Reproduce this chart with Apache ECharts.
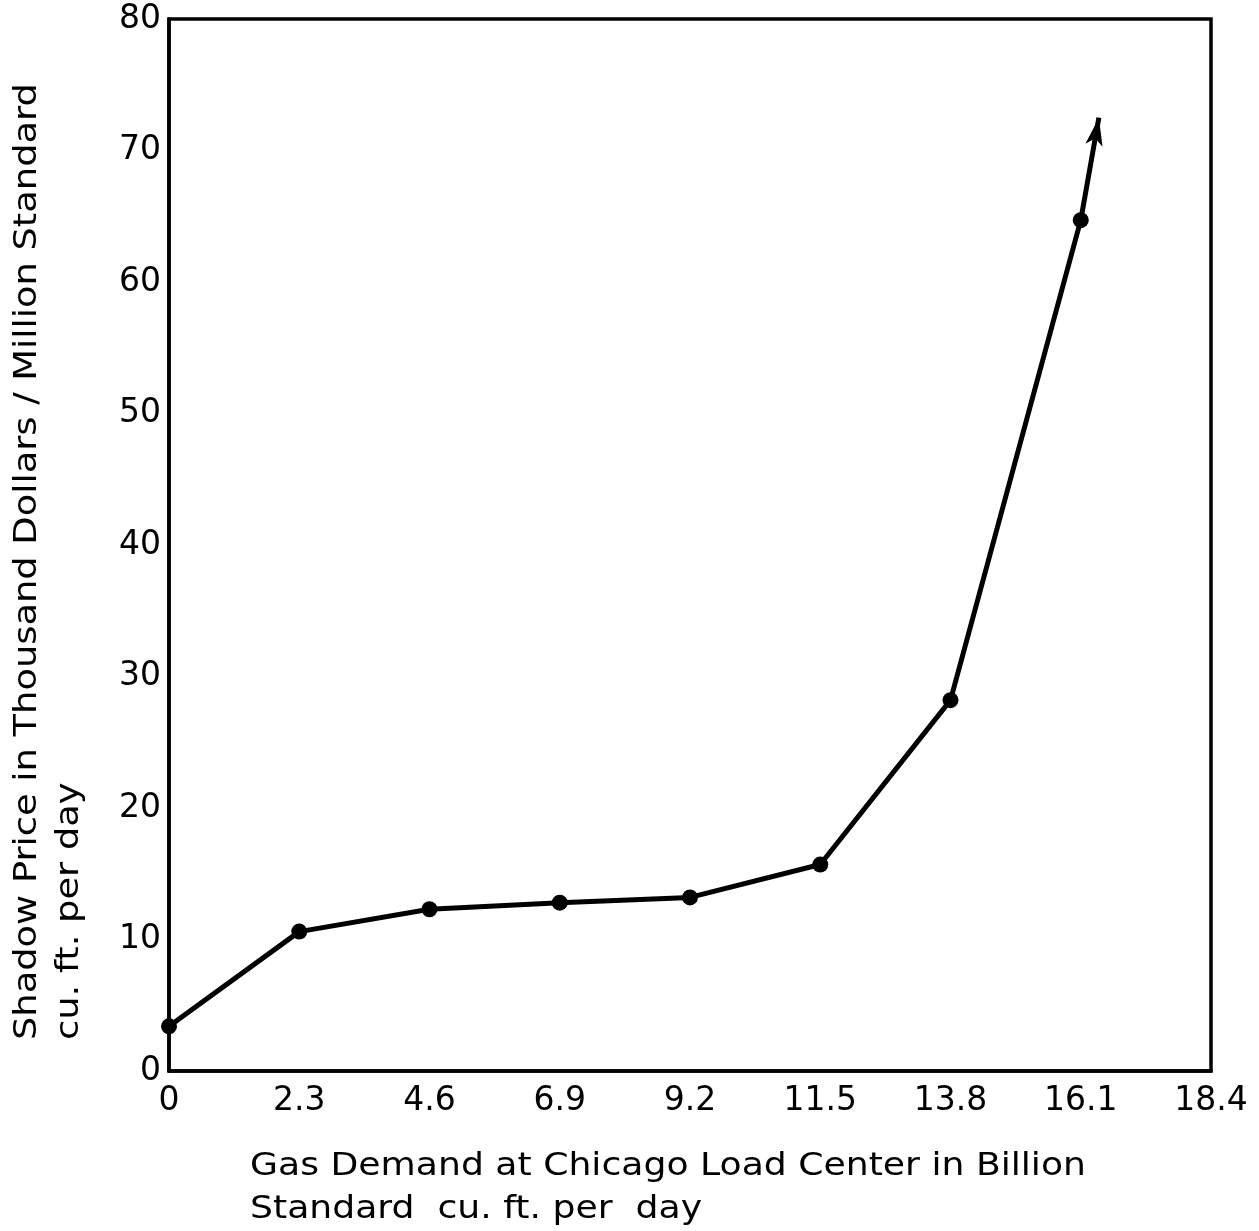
<!DOCTYPE html>
<html><head><meta charset="utf-8">
<script src="https://cdn.jsdelivr.net/npm/echarts@6/dist/echarts.min.js"></script>
<style>html,body{margin:0;padding:0;background:#fff;}#c{width:1259px;height:1231px;}</style>
</head><body><div id="c"></div>
<script>
const xValues = [0, 2.3, 4.6, 6.9, 9.2, 11.5, 13.8, 16.1];
const yValues = [3.4, 10.6, 12.3, 12.8, 13.2, 15.7, 28.2, 64.7];
const arrowTip = [16.42, 72.5];
const xTicks = ['0', '2.3', '4.6', '6.9', '9.2', '11.5', '13.8', '16.1', '18.4'];
const yTicks = [0, 10, 20, 30, 40, 50, 60, 70, 80];
const xTitle = ['Gas Demand at Chicago Load Center in Billion', 'Standard  cu. ft. per  day'];
const yTitle = ['Shadow Price in Thousand Dollars / Million Standard', 'cu. ft. per day'];

const FONT = 'DejaVu Sans';
const chart = echarts.init(document.getElementById('c'), null, {renderer: 'canvas'});
const pts = xValues.map((x, i) => [x, yValues[i]]);
const last = pts[pts.length - 1];
chart.setOption({
  animation: false,
  backgroundColor: '#fff',
  grid: {left: 169, right: 48, top: 19, bottom: 160, show: true, borderColor: '#000', borderWidth: 3.5},
  xAxis: {
    type: 'value', min: 0, max: 18.4, interval: 2.3,
    axisLine: {show: true, onZero: false, lineStyle: {color: '#000', width: 3.5}},
    axisTick: {show: false}, splitLine: {show: false},
    axisLabel: {color: '#000', fontSize: 33, fontFamily: FONT, margin: 14,
      formatter: (v) => { const i = Math.round(v / 2.3); return xTicks[i] !== undefined ? xTicks[i] : ''; }}
  },
  yAxis: {
    type: 'value', min: 0, max: 80, interval: 10,
    axisLine: {show: true, lineStyle: {color: '#000', width: 3.5}},
    axisTick: {show: false}, splitLine: {show: false},
    axisLabel: {color: '#000', fontSize: 33, fontFamily: FONT, margin: 8,
      formatter: (v) => yTicks.includes(v) ? String(v) : ''}
  },
  series: [{
    type: 'line', data: pts, symbol: 'circle', symbolSize: 16,
    lineStyle: {color: '#000', width: 5}, itemStyle: {color: '#000'},
    markLine: {
      silent: true, symbol: ['none', 'arrow'], symbolSize: [13, 28], label: {show: false},
      lineStyle: {color: '#000', width: 5, type: 'solid'},
      data: [[{coord: last}, {coord: arrowTip}]]
    }
  }],
  graphic: [
    {type: 'text', x: 250, y: 1167, scaleX: 1.13, style: {text: xTitle[0], font: '32px ' + FONT, fill: '#000', textAlign: 'left', textVerticalAlign: 'middle'}},
    {type: 'text', x: 250, y: 1210, scaleX: 1.13, style: {text: xTitle[1], font: '32px ' + FONT, fill: '#000', textAlign: 'left', textVerticalAlign: 'middle'}},
    {type: 'text', x: 28, y: 1040, rotation: Math.PI / 2, scaleX: 1.15, style: {text: yTitle[0], font: '32px ' + FONT, fill: '#000', textAlign: 'left', textVerticalAlign: 'middle'}},
    {type: 'text', x: 70, y: 1040, rotation: Math.PI / 2, scaleX: 1.15, style: {text: yTitle[1], font: '32px ' + FONT, fill: '#000', textAlign: 'left', textVerticalAlign: 'middle'}}
  ]
});
</script></body></html>
